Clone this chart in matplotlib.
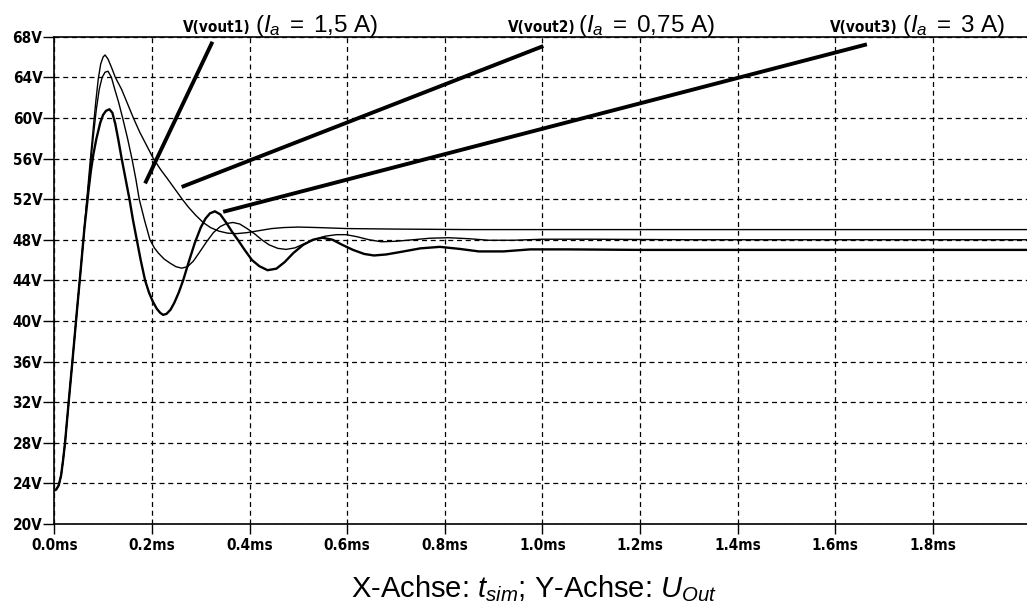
import matplotlib
matplotlib.use('Agg')
import matplotlib.pyplot as plt

plt.rcParams['mathtext.fontset'] = 'custom'
plt.rcParams['mathtext.rm'] = 'Liberation Sans'
plt.rcParams['mathtext.it'] = 'Liberation Sans:italic'
plt.rcParams['mathtext.bf'] = 'Liberation Sans:bold'

# common start-up ramp (time in ms, voltage in V)
rise_t = [0.000, 0.004, 0.009, 0.014, 0.018, 0.022, 0.030, 0.038, 0.046, 0.054, 0.062]
rise_v = [23.3, 23.4, 23.8, 24.8, 26.3, 28.0, 32.3, 36.5, 40.8, 45.0, 49.3]

# V(vout2), Ia = 0.75 A
t2 = [0.066, 0.070, 0.075, 0.080, 0.085, 0.090, 0.095, 0.100, 0.104, 0.110, 0.117, 0.125,
      0.138, 0.150, 0.162, 0.175, 0.189, 0.203, 0.218, 0.232, 0.247, 0.262, 0.275, 0.290,
      0.305, 0.320, 0.337, 0.355, 0.373, 0.395, 0.420, 0.445, 0.470, 0.500, 0.540, 0.600,
      0.700, 0.850, 1.000, 1.500, 2.000]
v2 = [51.6, 53.8, 56.5, 59.1, 61.6, 63.8, 65.3, 66.0, 66.2, 65.8, 65.0, 64.0,
      62.8, 61.4, 60.0, 58.6, 57.3, 56.0, 54.9, 54.0, 53.0, 52.0, 51.2, 50.4,
      49.7, 49.2, 48.85, 48.65, 48.6, 48.7, 48.9, 49.1, 49.2, 49.25, 49.2, 49.1,
      49.05, 49.0, 49.0, 49.0, 49.0]

# V(vout1), Ia = 1.5 A
t1 = [0.066, 0.070, 0.075, 0.080, 0.086, 0.092, 0.098, 0.104, 0.110, 0.117, 0.124, 0.132,
      0.140, 0.150, 0.159, 0.167, 0.174, 0.185, 0.196, 0.205, 0.213, 0.225, 0.237, 0.249,
      0.261, 0.273, 0.285, 0.298, 0.312, 0.326, 0.340, 0.353, 0.366, 0.380, 0.395, 0.410,
      0.425, 0.440, 0.458, 0.475, 0.493, 0.512, 0.532, 0.555, 0.578, 0.598, 0.620, 0.645,
      0.670, 0.700, 0.735, 0.770, 0.808, 0.850, 0.890, 0.940, 1.000, 1.100, 1.300, 2.000]
v1 = [51.3, 53.3, 55.8, 58.2, 60.8, 62.8, 64.0, 64.5, 64.6, 64.0, 62.8, 61.5,
      60.0, 58.0, 56.0, 54.0, 52.0, 49.9, 48.0, 47.2, 46.7, 46.1, 45.7, 45.35,
      45.2, 45.35, 45.9, 46.8, 47.8, 48.7, 49.3, 49.6, 49.7, 49.55, 49.1, 48.6,
      48.0, 47.5, 47.15, 47.05, 47.2, 47.6, 48.0, 48.35, 48.5, 48.5, 48.3, 48.0,
      47.8, 47.85, 48.0, 48.15, 48.2, 48.1, 47.95, 47.95, 48.05, 48.05, 48.0, 48.0]

# V(vout3), Ia = 3 A
t3 = [0.066, 0.070, 0.075, 0.080, 0.086, 0.094, 0.100, 0.106, 0.113, 0.119, 0.125, 0.131,
      0.138, 0.146, 0.154, 0.161, 0.169, 0.177, 0.186, 0.194, 0.202, 0.210, 0.217, 0.223,
      0.230, 0.238, 0.246, 0.255, 0.264, 0.276, 0.288, 0.300, 0.310, 0.319, 0.329, 0.340,
      0.352, 0.364, 0.376, 0.390, 0.405, 0.420, 0.437, 0.455, 0.472, 0.490, 0.510, 0.530,
      0.549, 0.570, 0.590, 0.612, 0.635, 0.655, 0.680, 0.710, 0.750, 0.790, 0.830, 0.870,
      0.920, 0.975, 1.050, 1.200, 2.000]
v3 = [51.0, 52.8, 54.8, 56.4, 57.9, 59.5, 60.3, 60.7, 60.85, 60.5, 59.4, 57.9,
      56.0, 54.0, 52.0, 50.0, 48.0, 46.0, 44.0, 42.8, 41.9, 41.2, 40.8, 40.6,
      40.7, 41.1, 41.8, 42.8, 44.0, 45.9, 47.7, 49.2, 50.1, 50.6, 50.8, 50.5,
      49.7, 48.8, 48.0, 47.0, 46.0, 45.4, 45.0, 45.15, 45.8, 46.7, 47.5, 48.0,
      48.2, 48.0, 47.5, 47.0, 46.6, 46.45, 46.55, 46.8, 47.15, 47.3, 47.1, 46.85,
      46.85, 47.05, 47.05, 47.0, 47.0]

# label pointer lines: (t_label, v_label) -> (t_curve, v_curve)
ptr1_t = [0.324, 0.186]
ptr1_v = [67.5, 53.55]
ptr2_t = [1.002, 0.261]
ptr2_v = [67.08, 53.2]
ptr3_t = [1.665, 0.346]
ptr3_v = [67.25, 50.75]

x_ticks = [0.0, 0.2, 0.4, 0.6, 0.8, 1.0, 1.2, 1.4, 1.6, 1.8]
y_ticks = [20, 24, 28, 32, 36, 40, 44, 48, 52, 56, 60, 64, 68]

W, H = 1027, 608
fig = plt.figure(figsize=(W / 100, H / 100), dpi=100)
ax = fig.add_axes([54.3 / W, 1 - 524 / H, 1 - 54.3 / W, (524 - 36.7) / H])

ax.plot(rise_t + t2, rise_v + v2, color='black', lw=1.0)
ax.plot(rise_t + t1, rise_v + v1, color='black', lw=1.0)
ax.plot(rise_t + t3, rise_v + v3, color='black', lw=1.7)

for pt, pv in [(ptr1_t, ptr1_v), (ptr2_t, ptr2_v), (ptr3_t, ptr3_v)]:
    ax.plot(pt, pv, color='black', lw=2.8, solid_capstyle='butt')

tick_font = dict(fontweight='bold', fontsize=11, fontstretch='condensed')
ax.set_xlim(0, 1.993)
ax.set_ylim(20, 68)
ax.set_xticks(x_ticks)
ax.set_xticklabels(['%.1fms' % t for t in x_ticks], **tick_font)
ax.set_yticks(y_ticks)
ax.set_yticklabels(['%dV' % v for v in y_ticks], **tick_font)
ax.tick_params(axis='y', direction='out', length=8, width=1, pad=0.5)
ax.tick_params(axis='x', direction='out', length=7, width=1, pad=3)
ax.grid(True, color='black', linestyle=(0, (4, 3)), linewidth=0.9)
ax.spines['right'].set_visible(False)
for s in ['left', 'bottom', 'top']:
    ax.spines[s].set_linewidth(1.2)

# curve labels at the top
labels = [(183, 255, 'V(vout1)', r'($I_a\;=\;1{,}5$ A)'),
          (508, 578, 'V(vout2)', r'($I_a\;=\;0{,}75$ A)'),
          (830, 902, 'V(vout3)', r'($I_a\;=\;3$ A)')]
for xb, xm, name, cur in labels:
    fig.text(xb / W, 1 - 32.3 / H, name, ha='left', va='baseline', **tick_font)
    fig.text(xm / W, 1 - 32.3 / H, cur, family='Liberation Sans', fontsize=17.5,
             ha='left', va='baseline')

fig.text(533.5 / W, 1 - 597 / H, r'X-Achse: $t_{sim}$; Y-Achse: $U_{Out}$',
         family='Liberation Sans', fontsize=21, ha='center', va='baseline')

fig.savefig('out.png', dpi=100)
